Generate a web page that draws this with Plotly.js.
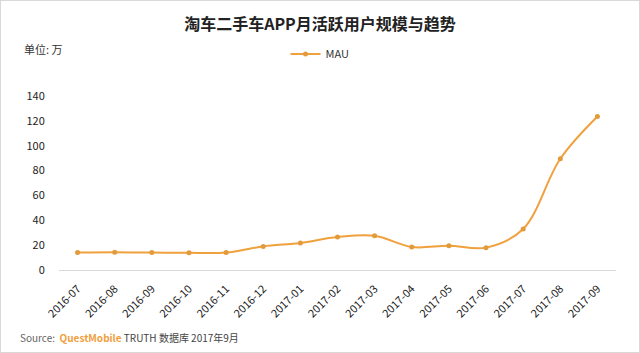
<!DOCTYPE html>
<html>
<head>
<meta charset="utf-8">
<script src="https://cdn.plot.ly/plotly-3.0.1.min.js"></script>
<style>
html,body{margin:0;padding:0;background:#fff;}
#wrap{position:relative;width:640px;height:353px;}
#chart{width:640px;height:353px;}
#frame{position:absolute;left:0;top:0;width:638px;height:351px;border:1px solid #d9d9d9;pointer-events:none;}
</style>
</head>
<body>
<div id="wrap"><div id="chart"></div><div id="frame"></div></div>
<script>
const months = ["2016-07","2016-08","2016-09","2016-10","2016-11","2016-12","2017-01","2017-02","2017-03","2017-04","2017-05","2017-06","2017-07","2017-08","2017-09"];
const mau = [14, 14.2, 14, 13.8, 14, 19, 21.8, 26.5, 27.5, 18.5, 19.5, 18, 33, 89.5, 123.5];
const seriesName = "MAU";
const yTicks = [0, 20, 40, 60, 80, 100, 120, 140];

const font = "'Noto Sans CJK SC', 'Noto Sans', sans-serif";
const trace = {
  x: months, y: mau, name: seriesName, type: "scatter", mode: "lines+markers",
  line: {color: "#f0a03c", width: 2, shape: "spline", smoothing: 1},
  marker: {color: "#e39a3a", size: 5, line: {width: 0}}
};
const layout = {
  width: 640, height: 353,
  margin: {l: 59, r: 24, t: 96, b: 83},
  paper_bgcolor: "#fff", plot_bgcolor: "#fff",
  font: {family: font, color: "#333", size: 11},
  title: {text: "<b>淘车二手车APP月活跃用户规模与趋势</b>", font: {family: font, size: 16, color: "#222"},
          x: 0.5, xref: "container", xanchor: "center", y: 0.93, yref: "container", yanchor: "middle"},
  showlegend: true,
  legend: {orientation: "h", xref: "container", yref: "container", x: 0.5, xanchor: "center", y: 0.847, yanchor: "middle",
           itemwidth: 30, font: {family: font, size: 11, color: "#333"}, bgcolor: "rgba(0,0,0,0)"},
  xaxis: {type: "category", range: [-0.5, 14.5], tickangle: -45, showgrid: false, zeroline: false,
          showline: true, linecolor: "#d9d9d9", linewidth: 1, ticks: "outside", ticklen: 7, tickcolor: "rgba(0,0,0,0)",
          tickfont: {family: font, size: 11, color: "#222"}, fixedrange: true},
  yaxis: {range: [0, 140], tickvals: yTicks, showgrid: false, zeroline: false, showline: false,
          ticks: "outside", ticklen: 11, tickcolor: "rgba(0,0,0,0)",
          tickfont: {family: font, size: 11, color: "#222"}, fixedrange: true},
  annotations: [
    {text: "单位: 万", xref: "paper", yref: "paper", x: -0.066, y: 1.27, xanchor: "left", yanchor: "middle",
     showarrow: false, font: {family: font, size: 11, color: "#333"}},
    {text: "<span style='color:#666'>Source:  </span><b><span style='color:#f0a03c'>QuestMobile</span></b><span style='color:#444'> TRUTH 数据库 2017年9月</span>",
     xref: "paper", yref: "paper", x: -0.074, y: -0.39, xanchor: "left", yanchor: "middle",
     showarrow: false, font: {family: font, size: 10}}
  ]
};
Plotly.newPlot("chart", [trace], layout, {displayModeBar: false, staticPlot: true});
</script>
</body>
</html>
